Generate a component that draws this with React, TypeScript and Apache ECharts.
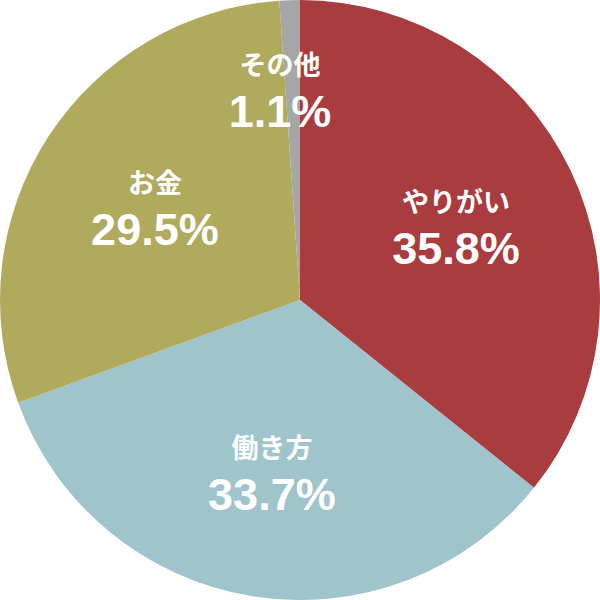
import React, { useEffect, useRef } from 'react'
import * as echarts from 'echarts'

const categories = ['やりがい', '働き方', 'お金', 'その他']
const values = [35.8, 33.7, 29.5, 1.1]
const colors = ['#A83C3E', '#A0C4CC', '#B0AA5C', '#A6A6A6']

export default function App() {
  const chartRef = useRef<HTMLDivElement>(null)

  useEffect(() => {
    const chart = echarts.init(chartRef.current, null, { renderer: 'svg' })
    const data = categories.map((name, i) => ({ name, value: values[i] }))
    chart.setOption({
      animation: false,
      backgroundColor: '#ffffff',
      series: [
        {
          type: 'pie',
          center: [300, 300],
          radius: [0, 300],
          startAngle: 90,
          silent: true,
          label: { show: false },
          labelLine: { show: false },
          data: data.map((d, i) => ({ ...d, itemStyle: { color: colors[i] } })),
        },
        {
          // transparent copy, only used to place the labels further out
          type: 'pie',
          center: [300, 300],
          radius: [40, 300],
          startAngle: 90,
          silent: true,
          itemStyle: { color: 'transparent' },
          labelLine: { show: false },
          label: {
            show: true,
            position: 'inside',
            color: '#ffffff',
            formatter: '{n|{b}}\n{v|{c}%}',
            rich: {
              n: {
                fontFamily: '"Noto Sans CJK JP"',
                fontWeight: 'bold',
                fontSize: 27,
                lineHeight: 47,
                color: '#ffffff',
              },
              v: {
                fontFamily: '"Liberation Sans", Arial',
                fontWeight: 'bold',
                fontSize: 45,
                lineHeight: 49,
                color: '#ffffff',
              },
            },
          },
          labelLayout: (p: any) => (p.dataIndex === 3 ? { dx: -14, dy: -39 } : {}),
          data,
        },
      ],
    })
    return () => chart.dispose()
  }, [])

  return (
    <div
      ref={chartRef}
      style={{ position: 'absolute', left: 0, top: 0, width: 600, height: 600 }}
    />
  )
}
